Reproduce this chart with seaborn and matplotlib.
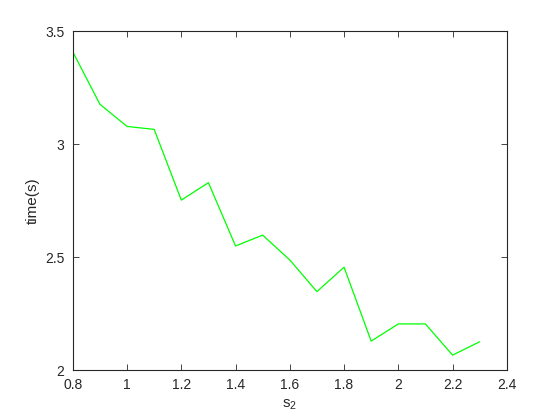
import pandas as pd
import matplotlib
matplotlib.use('Agg')
import matplotlib.pyplot as plt
import seaborn as sns

# values
s2 = [0.8, 0.9, 1.0, 1.1, 1.2, 1.3, 1.4, 1.5, 1.6, 1.7, 1.8, 1.9, 2.0, 2.1, 2.2, 2.3]
time_s = [3.408, 3.176, 3.078, 3.065, 2.752, 2.829, 2.549, 2.597, 2.487, 2.347,
          2.455, 2.128, 2.204, 2.204, 2.066, 2.125]
x_ticks = [0.8, 1, 1.2, 1.4, 1.6, 1.8, 2, 2.2, 2.4]
x_tick_labels = ['0.8', '1', '1.2', '1.4', '1.6', '1.8', '2', '2.2', '2.4']
y_ticks = [2, 2.5, 3, 3.5]
y_tick_labels = ['2', '2.5', '3', '3.5']

df = pd.DataFrame({'s2': s2, 'time': time_s})

sns.set_style('ticks')
plt.rcParams['font.family'] = ['Liberation Sans', 'DejaVu Sans']
plt.rcParams['mathtext.fontset'] = 'custom'
plt.rcParams['mathtext.rm'] = 'Liberation Sans'
plt.rcParams['mathtext.it'] = 'Liberation Sans'

fig = plt.figure(figsize=(5.6, 4.2), dpi=100)
ax = fig.add_axes([0.13, 0.119, 0.775, 0.807])
sns.lineplot(data=df, x='s2', y='time', color='#00ff00', linewidth=0.9, ax=ax)

ax.set_xlim(0.8, 2.4)
ax.set_ylim(2, 3.5)
ax.set_xticks(x_ticks)
ax.set_xticklabels(x_tick_labels)
ax.set_yticks(y_ticks)
ax.set_yticklabels(y_tick_labels)
ax.tick_params(direction='in', top=True, right=True, length=4, width=0.6,
               labelsize=10, colors='#262626', pad=6)
for sp in ax.spines.values():
    sp.set_linewidth(0.8)
    sp.set_color('#262626')
    sp.set_visible(True)

ax.set_xlabel('s$_2$', fontsize=11, color='#262626')
ax.set_ylabel('time(s)', fontsize=11, color='#262626')

fig.savefig('out.png', dpi=100, facecolor='white')
